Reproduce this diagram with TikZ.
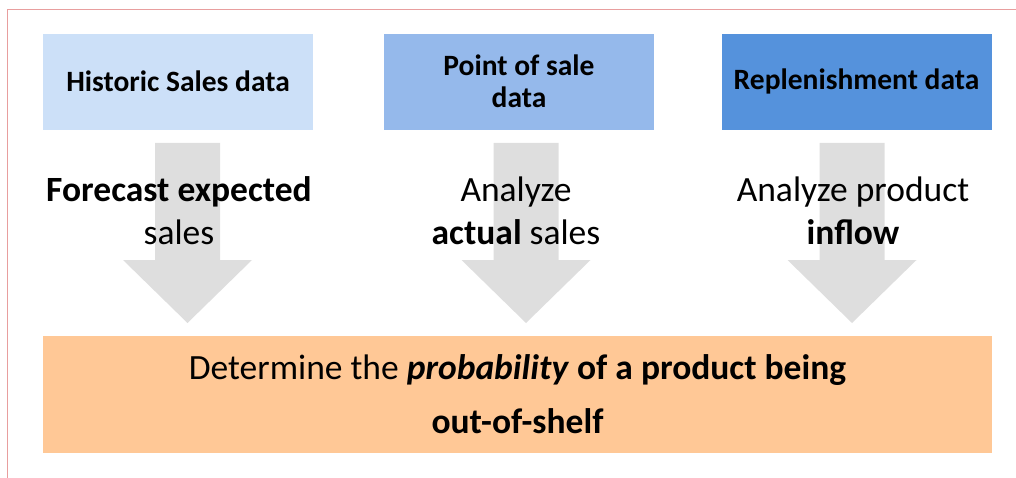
\documentclass[tikz,border=0pt]{standalone}
\usepackage{fontspec}
\setmainfont{Carlito}
\definecolor{frameline}{HTML}{E89E9E}
\definecolor{srcA}{HTML}{CCE0F8}
\definecolor{srcB}{HTML}{95B9EB}
\definecolor{srcC}{HTML}{5592DC}
\definecolor{resultfill}{HTML}{FFC896}
\definecolor{flowgray}{HTML}{DEDEDE}
\tikzset{
  srcbox/.style={draw=white, line width=0.8pt, minimum width=271pt, minimum height=97pt,
    inner sep=0pt, align=center, font=\fontsize{29.5}{32}\selectfont\bfseries},
  steptext/.style={align=center, inner sep=0pt, font=\fontsize{35.5}{43}\selectfont},
  resultbox/.style={draw=white, line width=0.8pt, fill=resultfill, minimum width=950pt,
    minimum height=118pt, inner sep=0pt},
  flowarrow/.style={fill=flowgray},
}
% block arrow pointing down: centre x, top y, head-base y, tip y
\newcommand\downblock[4]{%
  \fill[flowarrow] (#1-32.5,#2) -- (#1+32.5,#2) -- (#1+32.5,#3) -- (#1+64.5,#3)
    -- (#1,#4) -- (#1-64.5,#3) -- (#1-32.5,#3) -- cycle;}
\begin{document}
\begin{tikzpicture}[x=1pt,y=-1pt]
\useasboundingbox (0,0) rectangle (1016,478);
% page frame
\draw[frameline, line width=1.5pt] (7.5,480) -- (7.5,9.5) -- (1018,9.5);

% source boxes
\node[srcbox, fill=srcA] (hist) at (178,81.5) {Historic Sales data};
\node[srcbox, fill=srcB] (pos)  at (519,81.5) {Point of sale\\data};
\node[srcbox, fill=srcC] (repl) at (856.5,81.5) {Replenishment data};

% result box
\node[resultbox] (result) at (517.5,394) {};

% flow arrows from each source to the result
\downblock{187.5}{143}{260}{323}
\downblock{526}{143}{260}{323}
\downblock{852}{143}{260}{323}

% step descriptions
\node[steptext] (fc) at (179,211) {\textbf{Forecast expected}\\sales};
\node[steptext] (an) at (516,211) {Analyze\\\textbf{actual} sales};
\node[steptext] (in) at (853,211) {Analyze product\\\textbf{inflow}};

% result text
\node[align=center, inner sep=0pt, font=\fontsize{35.5}{54}\selectfont] (rt) at (517.5,394)
  {Determine the \textbf{\textit{probability}} \textbf{of a product being}\\\textbf{out-of-shelf}};
\end{tikzpicture}
\end{document}
